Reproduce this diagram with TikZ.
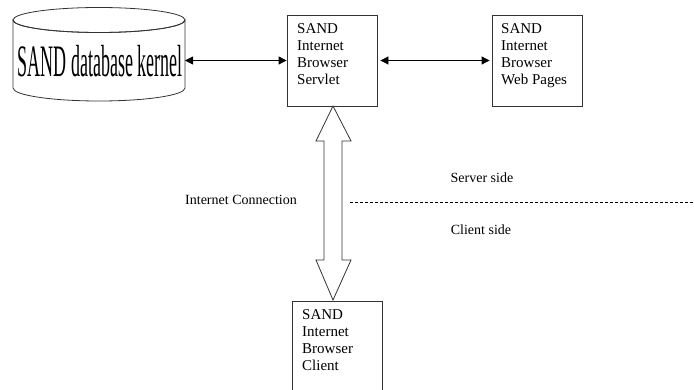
\documentclass[tikz,border=0pt]{standalone}
\usepackage{fontspec}
\setmainfont{Liberation Serif}
\usetikzlibrary{arrows.meta}
\begin{document}
\begin{tikzpicture}[x=1pt,y=-1pt,
  ln/.style={line width=0.8pt,draw=black!80},
  box/.style={ln,rectangle,inner sep=0pt,minimum width=90pt,minimum height=91pt},
  boxtext/.style={anchor=north west,inner sep=0pt,align=left,font=\fontsize{15}{17}\selectfont},
  lbl/.style={inner sep=0pt,font=\fontsize{14}{16}\selectfont},
  dbl/.style={line width=0.8pt,{Triangle[length=8pt,width=8pt]}-{Triangle[length=8pt,width=8pt]}}]
\clip (0,0) rectangle (694,390);
\fill[white] (0,0) rectangle (694,390);
% database cylinder
\draw[ln,fill=white] (13,88) -- (13,20) arc[start angle=180,end angle=360,x radius=86pt,y radius=12.5pt]
  -- (185,88) arc[start angle=360,end angle=180,x radius=86pt,y radius=13pt] -- cycle;
\draw[ln] (99,20) ellipse[x radius=86pt,y radius=12.5pt];
\node[inner sep=0pt] (db) at (100,61) {\scalebox{0.4}[1]{\fontsize{45}{45}\selectfont SAND database kernel}};
\coordinate (dbE) at (185,60.5);
% boxes
\node[box] (servlet) at (332,60.5) {};
\node[boxtext] (servletText) at (297,21) {\rule{0pt}{12pt}SAND\\Internet\\Browser\\Servlet};
\node[box] (web) at (537,60.5) {};
\node[boxtext] (webText) at (501,21) {\rule{0pt}{12pt}SAND\\Internet\\Browser\\Web Pages};
\node[box,minimum height=120pt,anchor=north] (client) at (337,301) {};
\node[boxtext] (clientText) at (302,307) {\rule{0pt}{12pt}SAND\\Internet\\Browser\\Client};
% connectors
\draw[dbl] (dbE) -- (servlet.west);
\draw[dbl] ([xshift=3pt]servlet.east) -- ([xshift=-2pt]web.west);
% block double arrow
\coordinate (tipT) at (333,106);
\coordinate (tipB) at (333,300);
\draw[ln,fill=white] (tipT) -- ++(18,35) -- ++(-9,0) -- ++(0,119) -- ++(9,0) -- (tipB)
  -- ++(-17,-40) -- ++(8,0) -- ++(0,-119) -- ++(-8,0) -- cycle;
% labels
\node[lbl] (ic) at (241,200) {Internet Connection};
\node[lbl] (ss) at (482,178) {Server side};
\node[lbl] (cs) at (481,230) {Client side};
\coordinate (dashL) at (350,202);
\coordinate (dashR) at (694,202);
\draw[line width=0.6pt,dash pattern=on 3pt off 2pt] (dashL) -- (dashR);
\end{tikzpicture}
\end{document}
